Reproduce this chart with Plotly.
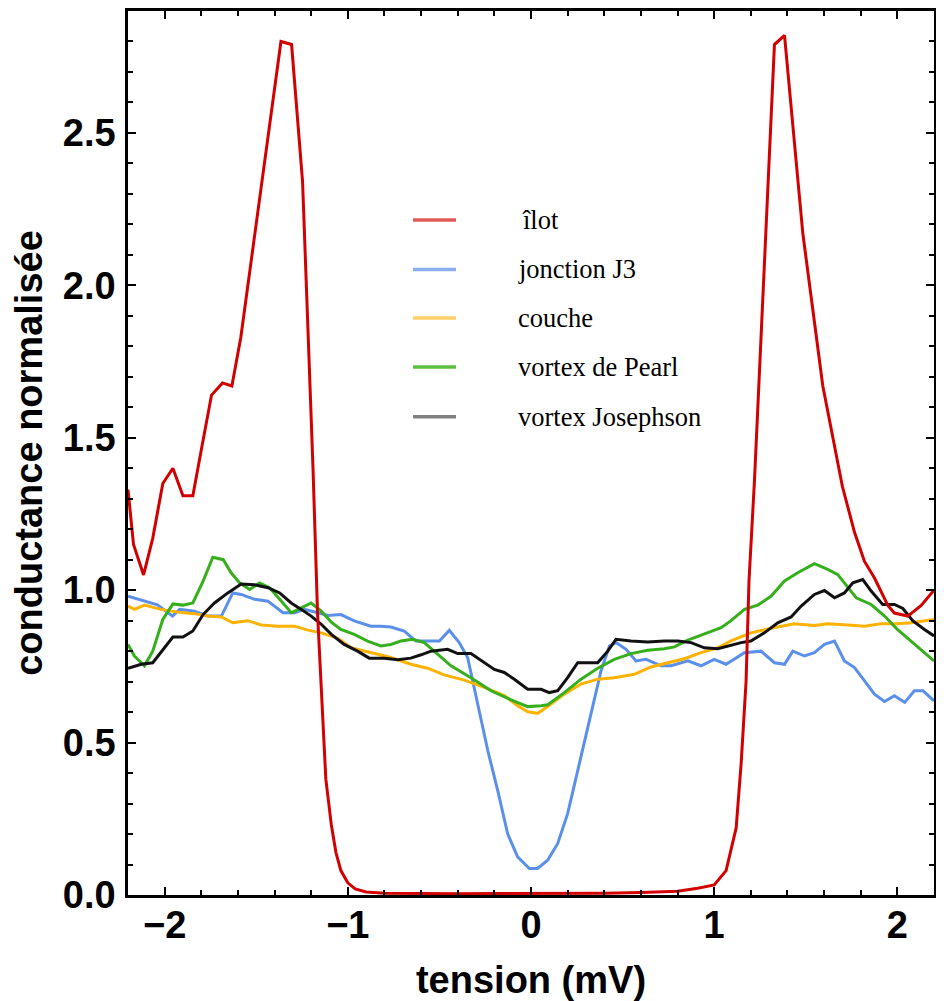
import plotly.graph_objects as go

# ---- data (tension in mV, normalised conductance) ----
ilot_x = [-2.2, -2.17, -2.115, -2.065, -2.01, -1.955, -1.90, -1.846, -1.80, -1.744, -1.684, -1.633,
          -1.584, -1.509, -1.365, -1.307, -1.247, -1.19, -1.165, -1.14, -1.12, -1.09, -1.065, -1.038,
          -1.0, -0.96, -0.9, -0.8, -0.6, -0.4, -0.2, 0.0, 0.2, 0.4, 0.6, 0.8, 0.91, 1.0, 1.065, 1.12,
          1.147, 1.174, 1.19, 1.22, 1.329, 1.384, 1.484, 1.593, 1.70, 1.766, 1.82, 1.875, 1.948, 1.984,
          2.057, 2.13, 2.2]
ilot_y = [1.33, 1.15, 1.05, 1.17, 1.35, 1.40, 1.31, 1.31, 1.46, 1.64, 1.68, 1.67,
          1.83, 2.16, 2.80, 2.79, 2.34, 1.40, 0.92, 0.62, 0.38, 0.23, 0.14, 0.08,
          0.04, 0.02, 0.01, 0.006, 0.004, 0.004, 0.005, 0.005, 0.005, 0.006, 0.008, 0.012, 0.022, 0.033, 0.08, 0.22,
          0.43, 0.70, 1.03, 1.36, 2.79, 2.82, 2.17, 1.67, 1.34, 1.19, 1.095, 1.04, 0.95, 0.925,
          0.915, 0.95, 1.0]

j3_x = [-2.2, -2.13, -2.039, -1.957, -1.918, -1.837, -1.764, -1.69, -1.628, -1.582, -1.509, -1.436,
        -1.354, -1.29, -1.236, -1.109, -1.038, -0.965, -0.874, -0.82, -0.765, -0.692, -0.628, -0.564,
        -0.50, -0.446, -0.392, -0.346, -0.291, -0.236, -0.182, -0.127, -0.073, -0.009, 0.036, 0.091,
        0.146, 0.20, 0.255, 0.31, 0.346, 0.382, 0.428, 0.464, 0.519, 0.573, 0.628, 0.71, 0.765, 0.856,
        0.928, 1.0, 1.065, 1.165, 1.256, 1.329, 1.384, 1.429, 1.493, 1.547, 1.602, 1.657, 1.711, 1.766,
        1.82, 1.875, 1.93, 1.984, 2.04, 2.093, 2.14, 2.2]
j3_y = [0.98, 0.968, 0.952, 0.915, 0.937, 0.931, 0.915, 0.915, 0.991, 0.986, 0.97, 0.964,
        0.926, 0.926, 0.937, 0.917, 0.92, 0.899, 0.882, 0.882, 0.879, 0.866, 0.833, 0.833,
        0.833, 0.868, 0.828, 0.779, 0.627, 0.474, 0.343, 0.20, 0.125, 0.087, 0.087, 0.114,
        0.169, 0.267, 0.408, 0.55, 0.637, 0.735, 0.817, 0.828, 0.806, 0.768, 0.773, 0.752, 0.752, 0.768,
        0.752, 0.773, 0.757, 0.795, 0.80, 0.762, 0.757, 0.80, 0.784, 0.795, 0.822, 0.833, 0.768, 0.746,
        0.703, 0.659, 0.635, 0.654, 0.632, 0.67, 0.67, 0.637]

couche_x = [-2.2, -2.165, -2.11, -2.02, -1.928, -1.837, -1.764, -1.69, -1.628, -1.546, -1.473, -1.382,
            -1.29, -1.218, -1.145, -1.054, -0.983, -0.874, -0.765, -0.656, -0.564, -0.474, -0.364, -0.255,
            -0.146, -0.073, -0.018, 0.036, 0.091, 0.182, 0.273, 0.364, 0.455, 0.564, 0.655, 0.747, 0.837,
            0.928, 1.02, 1.092, 1.20, 1.31, 1.438, 1.547, 1.62, 1.73, 1.82, 1.91, 2.0, 2.075, 2.2]
couche_y = [0.948, 0.937, 0.951, 0.937, 0.928, 0.923, 0.915, 0.912, 0.893, 0.90, 0.886, 0.882,
            0.882, 0.869, 0.86, 0.842, 0.811, 0.795, 0.779, 0.757, 0.744, 0.722, 0.705, 0.681,
            0.654, 0.621, 0.601, 0.596, 0.618, 0.659, 0.692, 0.708, 0.713, 0.724, 0.748, 0.762, 0.775,
            0.795, 0.811, 0.834, 0.86, 0.875, 0.89, 0.884, 0.89, 0.886, 0.882, 0.89, 0.89, 0.893, 0.904]

pearl_x = [-2.2, -2.165, -2.11, -2.065, -2.01, -1.955, -1.90, -1.846, -1.79, -1.737, -1.68, -1.637,
           -1.591, -1.536, -1.482, -1.427, -1.372, -1.309, -1.254, -1.20, -1.145, -1.09, -1.038, -0.965,
           -0.892, -0.82, -0.765, -0.71, -0.646, -0.583, -0.51, -0.437, -0.328, -0.218, -0.109, -0.018,
           0.055, 0.091, 0.182, 0.273, 0.364, 0.455, 0.546, 0.637, 0.728, 0.783, 0.856, 0.946, 1.038,
           1.092, 1.165, 1.238, 1.31, 1.384, 1.456, 1.547, 1.62, 1.675, 1.73, 1.775, 1.857, 1.93, 2.0,
           2.075, 2.148, 2.2]
pearl_y = [0.822, 0.784, 0.752, 0.80, 0.904, 0.955, 0.951, 0.958, 1.03, 1.108, 1.10, 1.057,
           1.024, 1.002, 1.024, 1.008, 0.97, 0.926, 0.942, 0.958, 0.931, 0.895, 0.871, 0.855,
           0.833, 0.817, 0.822, 0.833, 0.839, 0.828, 0.79, 0.752, 0.713, 0.67, 0.64, 0.618,
           0.621, 0.624, 0.664, 0.708, 0.744, 0.773, 0.792, 0.803, 0.808, 0.814, 0.836, 0.855, 0.877,
           0.90, 0.937, 0.951, 0.98, 1.03, 1.057, 1.087, 1.068, 1.051, 1.008, 0.975, 0.953, 0.915, 0.871,
           0.833, 0.795, 0.768]

joseph_x = [-2.2, -2.128, -2.065, -2.01, -1.955, -1.90, -1.846, -1.79, -1.728, -1.655, -1.582, -1.509,
            -1.436, -1.372, -1.309, -1.254, -1.20, -1.145, -1.09, -1.02, -0.947, -0.883, -0.80, -0.728,
            -0.656, -0.60, -0.546, -0.455, -0.40, -0.328, -0.255, -0.20, -0.146, -0.091, -0.018, 0.055,
            0.10, 0.146, 0.20, 0.255, 0.31, 0.364, 0.419, 0.464, 0.546, 0.637, 0.728, 0.801, 0.874, 0.946,
            1.02, 1.092, 1.147, 1.20, 1.274, 1.347, 1.42, 1.475, 1.547, 1.602, 1.657, 1.711, 1.757, 1.811,
            1.857, 1.92, 1.984, 2.03, 2.085, 2.148, 2.2]
joseph_y = [0.744, 0.757, 0.762, 0.806, 0.846, 0.846, 0.866, 0.92, 0.958, 0.991, 1.02, 1.018,
            1.008, 0.991, 0.958, 0.937, 0.915, 0.888, 0.855, 0.822, 0.80, 0.777, 0.777, 0.772,
            0.777, 0.788, 0.80, 0.806, 0.792, 0.792, 0.762, 0.74, 0.73, 0.708, 0.675, 0.675,
            0.664, 0.67, 0.713, 0.762, 0.762, 0.762, 0.80, 0.839, 0.833, 0.83, 0.833, 0.833, 0.828, 0.811,
            0.808, 0.819, 0.828, 0.833, 0.86, 0.893, 0.912, 0.948, 0.986, 0.999, 0.975, 0.991, 1.024, 1.035,
            0.997, 0.953, 0.953, 0.94, 0.899, 0.871, 0.85]

names = ["îlot", "jonction J3", "couche", "vortex de Pearl", "vortex Josephson"]
line_colors = ["#d20000", "#5a8fea", "#ffb300", "#35b01c", "#111111"]
legend_colors = ["#e05a5a", "#8cadee", "#ffd069", "#5cc043", "#808080"]
series = [(ilot_x, ilot_y), (j3_x, j3_y), (couche_x, couche_y), (pearl_x, pearl_y), (joseph_x, joseph_y)]

fig = go.Figure()
draw_order = [1, 2, 3, 4, 0]
for i in draw_order:
    xs, ys = series[i]
    fig.add_trace(go.Scatter(x=xs, y=ys, mode="lines", name=names[i], showlegend=False,
                             line=dict(color=line_colors[i], width=3)))

# legend drawn in paper coordinates (sample line + serif label)
legend_rows_y = [0.7636, 0.7077, 0.6528, 0.5972, 0.5411]
legend_text_shift = [4, 0, 0, 0, 0]
for i, n in enumerate(names):
    yy = legend_rows_y[i]
    fig.add_shape(type="line", xref="paper", yref="paper", x0=0.3536, x1=0.407, y0=yy, y1=yy,
                  line=dict(color=legend_colors[i], width=3.5))
    fig.add_annotation(xref="paper", yref="paper", x=0.482, y=yy, text=n, showarrow=False,
                       xanchor="left", yanchor="middle", align="left", xshift=legend_text_shift[i],
                       font=dict(family="Liberation Serif, Times New Roman", size=26.5, color="black"))

tickfont = dict(family="Liberation Sans, Arial", size=38, color="black", weight="bold")
axis_common = dict(showline=True, linecolor="black", linewidth=2.5, mirror="ticks",
                   ticks="inside", ticklen=8, tickwidth=2, tickcolor="black",
                   showgrid=False, zeroline=False, tickfont=tickfont)

fig.update_xaxes(range=[-2.2, 2.2], dtick=1, tick0=0, ticklabelstandoff=-5,
                 minor=dict(dtick=0.2, tick0=0, ticks="inside", ticklen=5, tickwidth=2, tickcolor="black"),
                 title=dict(text="tension (mV)", font=tickfont, standoff=26),
                 **axis_common)
fig.update_yaxes(range=[0, 2.9], dtick=0.5, tick0=0, tickformat=".1f", ticklabelstandoff=2,
                 minor=dict(dtick=0.1, tick0=0, ticks="inside", ticklen=5, tickwidth=2, tickcolor="black"),
                 title=dict(text="conductance normalisée", font=tickfont, standoff=18),
                 **axis_common)

fig.update_layout(
    width=936, height=993,
    margin=dict(l=120, r=10, t=0, b=106),
    plot_bgcolor="white", paper_bgcolor="white",
    showlegend=False,
)

fig.write_html("out.html")
